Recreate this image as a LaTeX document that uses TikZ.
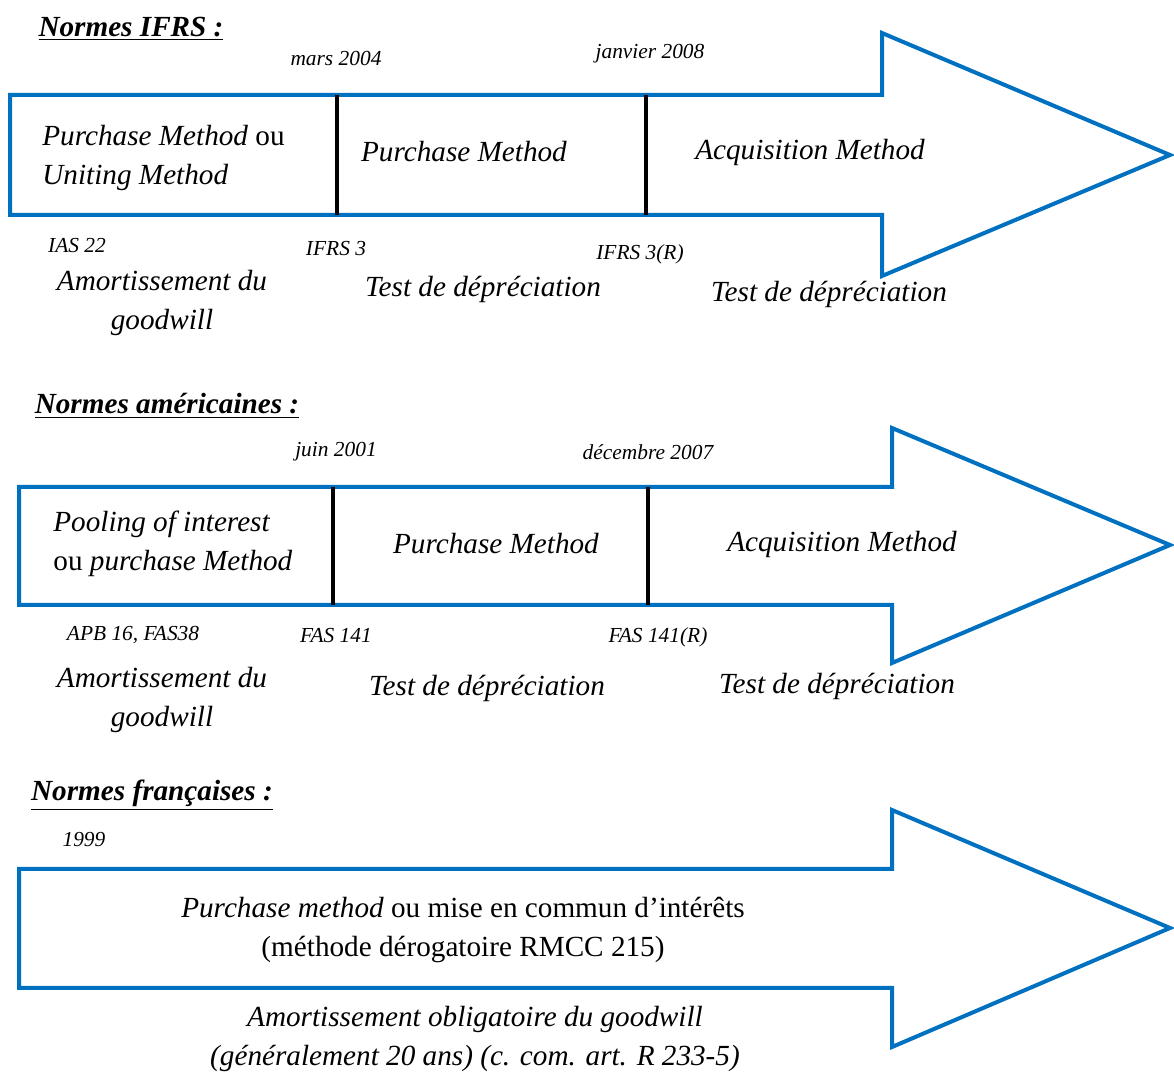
\documentclass[tikz,border=0pt]{standalone}
\usepackage{fontspec}
\setmainfont{Liberation Serif}
\usetikzlibrary{positioning}
\definecolor{bleu}{HTML}{0070C0}

\begin{document}
\begin{tikzpicture}[x=0.5pt,y=-0.5pt,
  fleche/.style={draw=bleu,line width=2pt,line join=miter},
  borne/.style={draw=black,line width=2.2pt},
  titre/.style={inner sep=0pt,yshift=-1.5pt,font=\fontsize{14.6}{19.5}\selectfont\bfseries\itshape},
  date/.style={inner sep=0pt,yshift=-1.5pt,font=\fontsize{10.7}{13}\selectfont\itshape},
  texte/.style={inner sep=0pt,yshift=-1.5pt,font=\fontsize{14.6}{19.5}\selectfont\itshape,align=center},
  gauche/.style={inner sep=0pt,yshift=-1.5pt,font=\fontsize{14.6}{19.5}\selectfont\itshape,align=left,anchor=west}]
  \useasboundingbox (0,0) rectangle (1174,1074);

  % normes IFRS
  \node [titre] (t1) at (131,26) {\underline{Normes IFRS :}};
  \draw [fleche] (10,95) -- (882,95) -- (882,33) -- (1170,155) -- (882,276) -- (882,215) -- (10,215) -- cycle;
  \coordinate (a1) at (337,95);
  \coordinate (b1) at (337,215);
  \coordinate (a2) at (646,95);
  \coordinate (b2) at (646,215);
  \draw [borne] (a1) -- (b1);
  \draw [borne] (a2) -- (b2);
  \node [date] (d1) at (336,56) {mars 2004};
  \node [date] (d2) at (650,51) {janvier 2008};
  \node [gauche] (m1) at (42,155) {Purchase Method \textup{ou}\\Uniting Method};
  \node [texte] (m2) at (464,149) {Purchase Method};
  \node [texte] (m3) at (810,149) {Acquisition Method};
  \node [date] (n1) at (77,243) {IAS 22};
  \node [date] (n2) at (336,246) {IFRS 3};
  \node [date] (n3) at (640,251) {IFRS 3(R)};
  \node [texte] (c1) at (162,300) {Amortissement du\\goodwill};
  \node [texte] (c2) at (483,286) {Test de dépréciation};
  \node [texte] (c3) at (829,291) {Test de dépréciation};

  % normes americaines
  \node [titre] (t2) at (167,403) {\underline{Normes américaines :}};
  \draw [fleche] (19,487) -- (892,487) -- (892,428) -- (1170,545) -- (892,663) -- (892,605) -- (19,605) -- cycle;
  \coordinate (a3) at (333,487);
  \coordinate (b3) at (333,605);
  \coordinate (a4) at (648,487);
  \coordinate (b4) at (648,605);
  \draw [borne] (a3) -- (b3);
  \draw [borne] (a4) -- (b4);
  \node [date] (d3) at (336,449) {juin 2001};
  \node [date] (d4) at (648,449) {décembre 2007};
  \node [gauche] (m4) at (53,541) {Pooling of interest\\\textup{ou} purchase Method};
  \node [texte] (m5) at (496,541) {Purchase Method};
  \node [texte] (m6) at (842,541) {Acquisition Method};
  \node [date] (n4) at (133,632) {APB 16, FAS38};
  \node [date] (n5) at (336,633) {FAS 141};
  \node [date] (n6) at (658,634) {FAS 141(R)};
  \node [texte] (c4) at (162,697) {Amortissement du\\goodwill};
  \node [texte] (c5) at (487,685) {Test de dépréciation};
  \node [texte] (c6) at (837,683) {Test de dépréciation};

  % normes francaises
  \node [titre] (t3) at (152,792) {\underline{Normes françaises :}};
  \draw [fleche] (19,869) -- (892,869) -- (892,810) -- (1170,928) -- (892,1047) -- (892,988) -- (19,988) -- cycle;
  \node [date] (d5) at (84,837) {1999};
  \node [texte] (m7) at (463,927) {Purchase method \textup{ou mise en commun d’intérêts}\\\textup{(méthode dérogatoire RMCC 215)}};
  \node [texte] (c7) at (475,1036) {Amortissement obligatoire du goodwill\\(généralement 20 ans) (c. com. art. R 233-5)};
\end{tikzpicture}
\end{document}
